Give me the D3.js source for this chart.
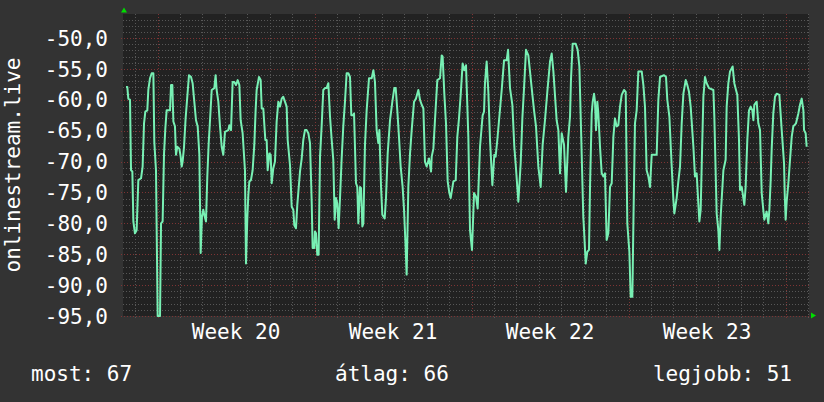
<!DOCTYPE html>
<html><head><meta charset="utf-8">
<script src="https://cdn.jsdelivr.net/npm/d3@7"></script>
<style>
html,body{margin:0;padding:0;background:#333333;}
svg{display:block;}
text{font-family:"DejaVu Sans Mono",monospace;fill:#ffffff;}
</style></head><body>
<svg id="c" width="824" height="402"></svg>
<script>
// ---- data ----
const graphStart = Date.UTC(2024, 4, 11, 11, 0); // graph begins 37h before ISO week 20
const spanHours = 734;
const hourOffsets = [
3.2,4.6,5.7,7.5,8.6,10.0,11.1,12.8,14.6,16.4,19.3,21.0,22.5,23.9,26.0,27.1,28.9,30.7,32.5,33.5,35.3,37.1,39.6,40.7,42.4,43.9,45.3,46.7,50.3,51.4,52.8,53.9,55.6,56.7,58.1,60.3,61.7,62.8,63.8,65.3,67.0,68.8,70.6,72.8,74.5,76.0,78.1,79.9,81.7,83.1,84.5,85.9,87.4,88.8,90.2,91.7,93.1,94.9,97.7,99.1,100.2,102.0,103.8,105.6,107.3,109.1,112.7,113.8,115.6,117.3,119.1,120.9,122.7,124.5,125.9,128.0,130.5,131.6,133.0,134.1,135.2,136.9,138.7,140.5,141.9,143.0,145.5,147.3,148.4,150.1,152.3,153.7,154.8,156.6,158.0,159.1,160.8,162.6,164.4,166.2,168.0,169.8,171.5,173.3,175.1,176.2,178.7,180.5,182.2,183.3,185.1,186.5,189.4,191.2,192.9,194.7,196.5,198.3,200.1,201.9,202.9,204.7,205.4,206.5,207.9,209.3,210.8,212.6,214.3,216.1,217.9,219.7,221.5,223.3,225.0,226.5,227.9,229.3,230.7,232.2,233.9,235.7,237.5,239.3,241.1,242.9,244.3,246.4,
247.2,249.3,250.7,251.8,253.6,254.7,256.1,257.2,258.9,260.7,263.2,266.1,267.9,269.6,271.4,273.2,274.3,276.1,277.5,280.0,281.4,283.2,285.7,288.2,290.3,291.8,293.5,295.3,297.1,299.2,300.7,302.1,303.5,305.3,307.1,308.9,311.4,313.5,316.0,317.8,319.6,321.4,323.1,324.9,327.4,329.6,330.3,332.1,333.8,336.3,339.2,341.0,342.0,343.8,345.6,347.4,349.2,350.6,353.5,356.0,357.7,359.5,361.3,363.4,365.2,367.0,369.5,371.3,373.4,375.6,377.7,379.5,382.0,384.8,386.3,387.3,389.1,390.9,392.7,395.2,397.3,398.7,400.5,405.2,407.7,410.5,412.0,414.1,416.6,418.7,420.1,423.0,425.5,427.3,429.1,431.2,433.7,437.3,439.8,441.9,444.4,446.9,449.0,451.5,454.0,456.9,458.7,460.5,464.0,465.8,467.6,469.4,471.9,474.0,476.5,478.3,479.3,481.1,484.3,486.5,488.3,489.7,492.5,
493.3,495.1,496.8,498.6,499.7,501.5,502.6,504.0,505.0,506.1,507.5,508.6,510.4,512.2,514.0,515.7,517.5,519.3,521.1,522.9,524.7,526.4,528.2,530.0,531.8,533.6,536.1,537.9,539.6,541.8,543.2,545.0,546.1,547.8,549.6,551.4,555.0,556.8,558.5,560.3,562.1,563.9,565.7,571.0,572.8,574.6,578.9,581.0,582.4,584.6,587.1,588.9,589.9,592.4,594.2,596.0,597.8,599.6,602.1,603.8,605.6,607.4,610.3,612.0,613.8,615.6,616.7,618.1,619.5,621.0,622.7,624.5,627.0,631.7,632.7,635.2,637.0,638.1,639.5,642.4,644.8,645.9,647.7,649.5,652.3,654.1,655.9,657.3,659.1,660.2,662.0,663.0,664.8,666.2,668.0,669.8,671.6,673.4,674.5,675.5,678.0,679.8,681.6,683.4,685.1,686.2,688.7,690.5,691.6,693.0,694.1,695.8,697.6,699.4,702.3,704.8,707.3,708.0,709.0,710.1,711.9,713.7,715.5,717.2,720.1,722.6,724.4,726.2,728.0,728.7,730.4,731.5
];
const signal = [
-57.9,-57.9,-59.8,-60.0,-71.4,-71.6,-79.7,-81.6,-81.1,-73.0,-72.7,-70.8,-63.8,-61.9,-61.7,-58.4,-56.5,-55.7,-55.7,-66.8,-71.4,-95,-95,-80.0,-79.7,-68.7,-64.6,-61.7,-61.7,-57.6,-57.6,-63.5,-64.3,-68.9,-67.6,-67.9,-69.2,-70.8,-70.0,-67.6,-63.0,-59.5,-56.0,-56.3,-57.3,-59.8,-63.3,-64.3,-68.9,-84.8,-78.9,-77.8,-78.9,-79.7,-72.4,-67.0,-63.3,-58.4,-58.1,-56.0,-58.4,-60.3,-64.3,-67.6,-68.9,-65.2,-64.9,-64.1,-64.9,-57.1,-57.1,-57.6,-56.8,-57.6,-63.3,-65.4,-71.4,-86.5,-79.2,-75.4,-73.2,-73.0,-71.4,-67.3,-61.7,-58.4,-56.3,-56.8,-61.4,-61.4,-66.5,-66.5,-71.4,-68.7,-68.9,-73.5,-71.1,-70.0,-63.5,-60.3,-61.1,-59.8,-59.5,-60.3,-61.1,-66.5,-70.6,-77.3,-77.8,-80.3,-80.8,-77.0,-71.6,-69.5,-66.5,-64.9,-64.9,-65.4,-67.0,-76.5,-84.0,-84.0,-81.3,-81.6,-85.1,-85.1,-69.2,-64.1,-58.4,-58.1,-58.1,-57.3,-62.7,-66.5,-69.7,-79.4,-75.9,-76.8,-80.8,-75.9,-69.7,-64.3,-60.3,-55.7,-55.7,-56.3,-62.5,-62.5,
-62.2,-73.5,-74.1,-80.0,-74.1,-74.3,-80.5,-80.0,-67.3,-61.7,-56.5,-56.5,-55.2,-57.1,-64.9,-67.0,-64.9,-74.1,-78.6,-79.2,-75.9,-68.7,-63.3,-60.3,-58.1,-58.1,-61.7,-66.0,-70.8,-74.1,-77.8,-82.7,-88.3,-74.1,-68.7,-64.9,-60.3,-59.8,-58.4,-60.0,-60.8,-61.4,-70.0,-70.8,-69.5,-71.6,-69.2,-67.9,-63.3,-56.8,-56.5,-52.8,-53.0,-59.0,-63.8,-73.2,-75.1,-75.9,-73.2,-73.0,-66.0,-63.0,-59.2,-54.1,-55.2,-54.4,-66.0,-81.1,-84.3,-75.1,-75.7,-77.6,-67.6,-62.5,-61.9,-57.3,-53.8,-58.7,-66.5,-73.8,-68.9,-69.2,-66.5,-58.4,-53.6,-53.6,-51.9,-58.1,-60.8,-67.6,-70.3,-76.5,-70.3,-63.0,-58.1,-51.9,-52.8,-58.1,-61.7,-64.3,-70.8,-74.1,-67.3,-63.3,-58.7,-53.8,-52.5,-55.4,-63.3,-64.9,-71.9,-65.4,-67.3,-74.9,-66.0,-62.7,-56.8,-50.9,-50.9,-51.9,-54.6,-62.5,-78.9,
-81.1,-86.5,-84.6,-84.3,-74.1,-62.2,-60.3,-59.0,-60.3,-64.9,-60.3,-62.2,-67.6,-71.9,-72.4,-71.9,-82.7,-81.6,-74.1,-73.5,-66.0,-63.0,-64.3,-64.1,-61.1,-59.2,-58.4,-58.7,-80.0,-84.6,-91.9,-91.9,-80.0,-63.8,-61.7,-55.4,-55.4,-57.6,-61.1,-71.4,-72.4,-74.1,-68.9,-68.9,-60.0,-56.3,-56.0,-56.3,-60.0,-62.7,-70.8,-76.2,-78.4,-75.9,-73.2,-70.8,-63.8,-59.0,-56.8,-57.6,-58.7,-61.1,-67.6,-72.4,-71.9,-76.8,-79.7,-77.8,-68.7,-59.5,-56.3,-57.3,-58.1,-58.4,-62.7,-78.4,-81.1,-84.3,-78.9,-71.4,-69.7,-61.1,-57.3,-55.4,-54.6,-57.3,-58.4,-59.2,-66.5,-74.6,-74.1,-75.1,-77.0,-74.1,-66.5,-61.7,-61.1,-61.7,-63.3,-60.8,-60.3,-63.8,-64.9,-75.1,-77.8,-79.4,-78.1,-80.0,-77.8,-73.0,-67.9,-62.2,-59.5,-59.0,-59.2,-64.9,-70.3,-75.1,-79.4,-76.5,-73.5,-69.7,-66.0,-64.3,-63.8,-62.2,-60.8,-59.8,-61.7,-64.9,-65.4,-67.6
];
const yTicks = [-95,-90,-85,-80,-75,-70,-65,-60,-55,-50];
const yDomain = [-95, -46.1];
const weekLabels = ["Week 20","Week 21","Week 22","Week 23"];
const axisTitle = "onlinestream.live";
const legendItems = ["most: 67","átlag: 66","legjobb: 51"];

// ---- layout ----
const L = 123, R = 809, T = 14, B = 316;
const FS = 21;
const svg = d3.select("#c");
const H = 3600e3;
const start = new Date(graphStart), end = new Date(graphStart + spanHours*H);
const x = d3.scaleUtc().domain([start, end]).range([L, R]);
const y = d3.scaleLinear().domain(yDomain).range([B, T]);

svg.append("rect").attr("x",0).attr("y",0).attr("width",824).attr("height",402).attr("fill","#333333");
svg.append("rect").attr("x",L).attr("y",T).attr("width",R-L).attr("height",B-T).attr("fill","#222222");

const minorCol = "#575757", majorCol = "#7e3434";
const g = svg.append("g").attr("shape-rendering","crispEdges");
// horizontal grid
const minorY = d3.range(yDomain[0], yDomain[1], 1).filter(v => v % 5 !== 0);
g.selectAll(".hm").data(minorY).join("line")
  .attr("x1",L).attr("x2",R).attr("y1",d=>Math.round(y(d))+0.5).attr("y2",d=>Math.round(y(d))+0.5)
  .attr("stroke",minorCol).attr("stroke-dasharray","1,2");
// vertical grid
const days = d3.utcDay.range(start, end).filter(d => d.getUTCDay() !== 1);
const weeks = d3.utcMonday.range(start, end);
g.selectAll(".vm").data(days).join("line")
  .attr("x1",d=>Math.round(x(d))+0.5).attr("x2",d=>Math.round(x(d))+0.5).attr("y1",T).attr("y2",B+3)
  .attr("stroke",minorCol).attr("stroke-dasharray","1,2");
g.selectAll(".hM").data(yTicks).join("line")
  .attr("x1",L-2).attr("x2",R).attr("y1",d=>Math.round(y(d))+0.5).attr("y2",d=>Math.round(y(d))+0.5)
  .attr("stroke",majorCol).attr("stroke-dasharray","1,2");
g.selectAll(".vM").data(weeks).join("line")
  .attr("x1",d=>Math.round(x(d))+0.5).attr("x2",d=>Math.round(x(d))+0.5).attr("y1",T).attr("y2",B+3)
  .attr("stroke",majorCol).attr("stroke-dasharray","1,2");

// arrows
svg.append("path").attr("d",`M${L-2},12.5L${L+4},12.5L${L+1},7.5Z`).attr("fill","#00dd00");
svg.append("path").attr("d",`M${R+2},312.5L${R+2},318.5L${R+7},315.5Z`).attr("fill","#00dd00");

// line
const pts = hourOffsets.map((h,i) => [new Date(graphStart + h*H), signal[i]]);
svg.append("path").datum(pts)
  .attr("d", d3.line().x(d=>x(d[0])).y(d=>y(d[1])))
  .attr("fill","none").attr("stroke","#78f0b4").attr("stroke-width",2).attr("stroke-linejoin","round");

// y labels
svg.selectAll(".yl").data(yTicks).join("text")
  .attr("x",108).attr("y",d=>y(d)+7.6).attr("text-anchor","end").attr("font-size",FS)
  .text(d => d3.format(".1f")(d).replace(".",",").replace("−","-"));
// x labels
svg.selectAll(".xl").data(weeks.slice(0, weekLabels.length)).join("text")
  .attr("x",d=>x(new Date(+d + 3.5*24*H))).attr("y",339).attr("text-anchor","middle").attr("font-size",FS)
  .text((d,i)=>weekLabels[i]);
// axis title
svg.append("text").attr("transform",`translate(20,${(T+B)/2}) rotate(-90)`).attr("text-anchor","middle").attr("font-size",FS).text(axisTitle);
// legend
const lx = [[31,"start"],[335,"start"],[792,"end"]];
svg.selectAll(".lg").data(legendItems).join("text")
  .attr("x",(d,i)=>lx[i][0]).attr("y",381).attr("text-anchor",(d,i)=>lx[i][1]).attr("font-size",FS).text(d=>d);
</script></body></html>
